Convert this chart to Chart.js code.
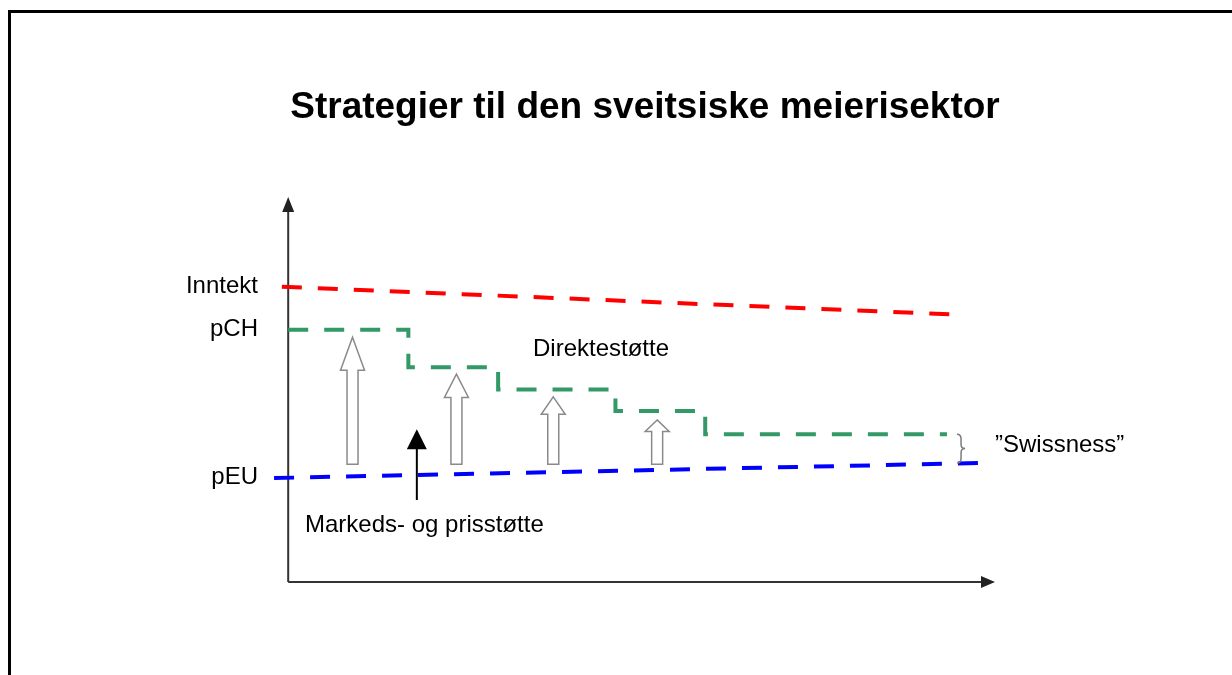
<!DOCTYPE html>
<html>
<head>
<meta charset="utf-8">
<script src="https://cdn.jsdelivr.net/npm/chart.js@4/dist/chart.umd.min.js"></script>
<style>
	html, body { margin: 0; padding: 0; background: #fff; }
	canvas { display: block; }
</style>
</head>
<body>
<canvas id="chart" width="1232" height="675"></canvas>
<script>
// Series (abstract units: x 0..100 along time, y 0..100 up the price axis)
const incomeX = [-0.9, 95.3];
const incomeY = [76.7, 69.4];
const pchX = [0, 17.0, 29.7, 46.3, 59.0, 93.2];
const pchY = [65.5, 55.8, 50.0, 44.4, 38.4, 38.4];
const peuX = [-2.0, 97.9];
const peuY = [27.0, 30.9];

// Direct support (hollow arrows)
const directX = [9.1, 23.8, 37.5, 52.2];
const directTop = [63.6, 54.0, 48.1, 42.1];
const directBase = [30.6, 30.6, 30.6, 30.6];

// Market and price support (black arrow)
const marketX = [18.2];
const marketFrom = [21.3];
const marketTo = [39.7];

// "Swissness" brace
const swissX = [95.2];
const swissRange = [30.9, 38.4];

const seriesLabels = ['Inntekt', 'pCH', 'pEU'];
const titleText = 'Strategier til den sveitsiske meierisektor';

const FONT = '"Liberation Sans", Arial, sans-serif';

const toPoints = (xs, ys) => xs.map((x, i) => ({ x: x, y: ys[i] }));

const diagram = {
	id: 'diagram',
	beforeDraw(chart) {
		const ctx = chart.ctx;
		ctx.save();
		// frame
		ctx.fillStyle = '#000';
		ctx.fillRect(8, 10, 3, chart.height - 10);
		ctx.fillRect(8, 10, chart.width - 8, 3);

		// title
		ctx.font = 'bold 37px ' + FONT;
		ctx.textAlign = 'center';
		ctx.textBaseline = 'alphabetic';
		ctx.fillText(titleText, 645, 118);

		// axes with arrow heads
		const xs = chart.scales.x, ys = chart.scales.y;
		const x0 = xs.getPixelForValue(0), x1 = xs.getPixelForValue(100);
		const y0 = ys.getPixelForValue(0), y1 = ys.getPixelForValue(100);
		ctx.strokeStyle = '#333';
		ctx.fillStyle = '#222';
		ctx.lineWidth = 2;
		ctx.beginPath();
		ctx.moveTo(x0, y0);
		ctx.lineTo(x0, y1 + 12);
		ctx.moveTo(x0, y0);
		ctx.lineTo(x1 - 12, y0);
		ctx.stroke();
		ctx.beginPath();
		ctx.moveTo(x0, y1);
		ctx.lineTo(x0 - 6, y1 + 15);
		ctx.lineTo(x0 + 6, y1 + 15);
		ctx.closePath();
		ctx.fill();
		ctx.beginPath();
		ctx.moveTo(x1, y0);
		ctx.lineTo(x1 - 14, y0 - 6);
		ctx.lineTo(x1 - 14, y0 + 6);
		ctx.closePath();
		ctx.fill();
		ctx.restore();
	},
	afterDatasetsDraw(chart) {
		const ctx = chart.ctx;
		const xs = chart.scales.x, ys = chart.scales.y;
		ctx.save();

		// hollow arrows
		ctx.lineWidth = 1.5;
		ctx.strokeStyle = '#8a8a8a';
		ctx.fillStyle = '#fff';
		directX.forEach((v, i) => {
			const cx = xs.getPixelForValue(v);
			const top = ys.getPixelForValue(directTop[i]);
			const base = ys.getPixelForValue(directBase[i]);
			const head = (base - top) * 0.26;
			ctx.beginPath();
			ctx.moveTo(cx, top);
			ctx.lineTo(cx + 12, top + head);
			ctx.lineTo(cx + 5.5, top + head);
			ctx.lineTo(cx + 5.5, base);
			ctx.lineTo(cx - 5.5, base);
			ctx.lineTo(cx - 5.5, top + head);
			ctx.lineTo(cx - 12, top + head);
			ctx.closePath();
			ctx.fill();
			ctx.stroke();
		});

		// black arrow
		ctx.strokeStyle = '#000';
		ctx.fillStyle = '#000';
		ctx.lineWidth = 2;
		marketX.forEach((v, i) => {
			const cx = xs.getPixelForValue(v);
			const from = ys.getPixelForValue(marketFrom[i]);
			const to = ys.getPixelForValue(marketTo[i]);
			ctx.beginPath();
			ctx.moveTo(cx, from);
			ctx.lineTo(cx, to + 18);
			ctx.stroke();
			ctx.beginPath();
			ctx.moveTo(cx, to);
			ctx.lineTo(cx - 10, to + 20);
			ctx.lineTo(cx + 10, to + 20);
			ctx.closePath();
			ctx.fill();
		});

		// brace
		swissX.forEach((v) => {
			const bx = xs.getPixelForValue(v);
			const b = ys.getPixelForValue(swissRange[0]);
			const t = ys.getPixelForValue(swissRange[1]);
			const m = (b + t) / 2;
			ctx.strokeStyle = '#7a7a7a';
			ctx.lineWidth = 1.5;
			ctx.beginPath();
			ctx.moveTo(bx - 4, t);
			ctx.quadraticCurveTo(bx, t, bx, t + 5);
			ctx.lineTo(bx, m - 4);
			ctx.quadraticCurveTo(bx, m, bx + 4, m);
			ctx.quadraticCurveTo(bx, m, bx, m + 4);
			ctx.lineTo(bx, b - 5);
			ctx.quadraticCurveTo(bx, b, bx - 4, b);
			ctx.stroke();
		});

		// series labels at the start of each line
		ctx.fillStyle = '#000';
		ctx.font = '24px ' + FONT;
		ctx.textAlign = 'right';
		ctx.textBaseline = 'alphabetic';
		chart.data.datasets.forEach((ds, i) => {
			const y = ys.getPixelForValue(ds.data[0].y);
			ctx.fillText(seriesLabels[i], 258, y + 6);
		});

		ctx.textAlign = 'left';
		ctx.fillText('Direktestøtte', 533, 356);
		ctx.fillText('Markeds- og prisstøtte', 305, 532);
		ctx.fillText('\u201DSwissness\u201D', 995, 452);
		ctx.restore();
	}
};

new Chart(document.getElementById('chart'), {
	type: 'line',
	data: {
		datasets: [
			{
				data: toPoints(incomeX, incomeY),
				borderColor: '#ff0000',
			},
			{
				data: toPoints(pchX, pchY),
				borderColor: '#339966',
				stepped: true, // horizontal first, then drop
			},
			{
				data: toPoints(peuX, peuY),
				borderColor: '#0000ff',
			},
		].map(ds => Object.assign({
			borderWidth: 4,
			borderDash: [20, 16],
			borderCapStyle: 'butt',
			pointRadius: 0,
			tension: 0,
			fill: false,
		}, ds))
	},
	options: {
		responsive: false,
		animation: false,
		layout: { padding: { left: 267, right: 237, top: 197, bottom: 93 } },
		scales: {
			x: { type: 'linear', min: -3, max: 100, display: false },
			y: { type: 'linear', min: 0, max: 100, display: false },
		},
		plugins: {
			legend: { display: false },
			tooltip: { enabled: false },
		}
	},
	plugins: [diagram]
});
</script>
</body>
</html>
